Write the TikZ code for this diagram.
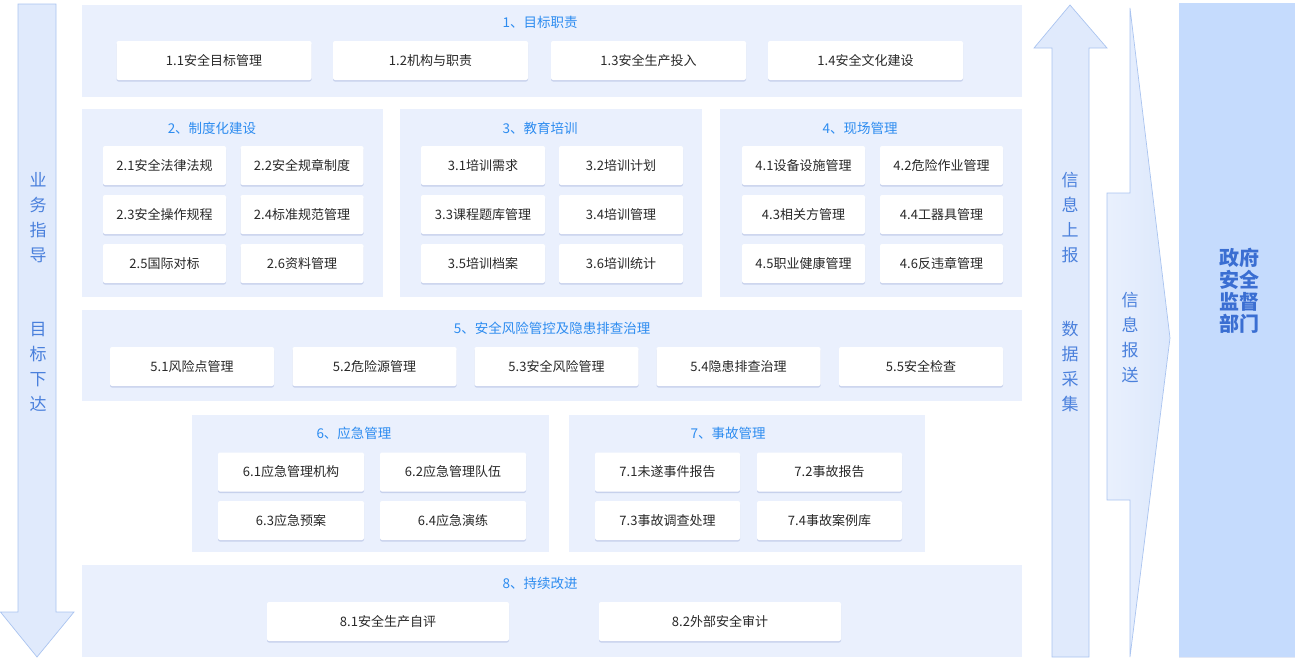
\documentclass[tikz,border=0pt]{standalone}
\usepackage{fontspec}
\setmainfont{Noto Sans CJK SC}
\usepackage{xcolor}
\usetikzlibrary{shadows}
\definecolor{secbg}{RGB}{234,240,253}
\definecolor{ttlblue}{RGB}{45,140,240}
\definecolor{cardtxt}{RGB}{40,40,40}
\definecolor{shadowc}{RGB}{120,140,200}
\definecolor{arrfill}{RGB}{224,234,252}
\definecolor{arrline}{RGB}{170,196,240}
\definecolor{vblue}{RGB}{74,128,220}
\definecolor{govbg}{RGB}{197,219,253}
\definecolor{govtxt}{RGB}{58,110,210}

\begin{document}
\begin{tikzpicture}[x=1pt,y=-1pt,
  sec/.style={fill=secbg,inner sep=0pt},
  card/.style={fill=white,rounded corners=2pt,inner sep=0pt,minimum height=39pt,
    font=\fontsize{13}{15}\selectfont,text=cardtxt,
    drop shadow={shadow xshift=0pt,shadow yshift=-1.5pt,opacity=0.3,fill=shadowc}},
  ttl/.style={font=\fontsize{13.5}{15}\selectfont,text=ttlblue},
  arr/.style={fill=arrfill,draw=arrline,line width=0.7pt,line join=miter},
  vtxt/.style={align=center,text=vblue,font=\fontsize{17}{25}\selectfont,inner sep=0pt}]
\useasboundingbox (0,0) rectangle (1299,664);

% arrows at the sides
\draw[arr] (18,4) -- (56,4) -- (56,612) -- (74,612) -- (37,657) -- (0.5,612) -- (18,612) -- cycle;
\draw[arr] (1052,657) -- (1089,657) -- (1089,48) -- (1107,48) -- (1070,5) -- (1034,48) -- (1052,48) -- cycle;
\draw[draw=arrline,line width=0.7pt,left color=arrfill!70!white,right color=arrfill!85!govbg]
  (1130,8) -- (1170,338) -- (1130,657) -- (1130,500) -- (1107,500) -- (1107,193) -- (1130,193) -- cycle;
\node[vtxt] (v1) at (38,217.5) {业\\务\\指\\导};
\node[vtxt] (v2) at (38,366.5) {目\\标\\下\\达};
\node[vtxt] (v3) at (1070,217.5) {信\\息\\上\\报};
\node[vtxt] (v4) at (1070,366.5) {数\\据\\采\\集};
\node[vtxt] (v5) at (1130,338) {信\\息\\报\\送};

% government box
\node[fill=govbg,minimum width=116pt,minimum height=654pt,inner sep=0pt,
  drop shadow={shadow xshift=0pt,shadow yshift=-1pt,opacity=0.2,fill=shadowc}] (gov) at (1236.5,330) {};
\node[align=center,text=govtxt,font=\bfseries\fontsize{20}{22}\selectfont] (govt) at (1239,291) {政府\\安全\\监督\\部门};

% 1
\node[sec,minimum width=940pt,minimum height=92pt] (s1) at (552,51) {};
\node[ttl] (t1) at (540,22) {1、目标职责};
\node[card,minimum width=195pt] (c11) at (214,60.5) {1.1安全目标管理};
\node[card,minimum width=195pt] (c12) at (430.5,60.5) {1.2机构与职责};
\node[card,minimum width=195pt] (c13) at (648.5,60.5) {1.3安全生产投入};
\node[card,minimum width=195pt] (c14) at (865.5,60.5) {1.4安全文化建设};

% 2
\node[sec,minimum width=301pt,minimum height=188pt] (s2) at (232.5,203) {};
\node[ttl] (t2) at (212,128) {2、制度化建设};
\node[card,minimum width=123pt] (c21) at (164.5,165.5) {2.1安全法律法规};
\node[card,minimum width=123pt] (c22) at (302,165.5) {2.2安全规章制度};
\node[card,minimum width=123pt] (c23) at (164.5,214.5) {2.3安全操作规程};
\node[card,minimum width=123pt] (c24) at (302,214.5) {2.4标准规范管理};
\node[card,minimum width=123pt] (c25) at (164.5,263.5) {2.5国际对标};
\node[card,minimum width=123pt] (c26) at (302,263.5) {2.6资料管理};

% 3
\node[sec,minimum width=302pt,minimum height=188pt] (s3) at (551,203) {};
\node[ttl] (t3) at (540,128) {3、教育培训};
\node[card,minimum width=124pt] (c31) at (483,165.5) {3.1培训需求};
\node[card,minimum width=124pt] (c32) at (621,165.5) {3.2培训计划};
\node[card,minimum width=124pt] (c33) at (483,214.5) {3.3课程题库管理};
\node[card,minimum width=124pt] (c34) at (621,214.5) {3.4培训管理};
\node[card,minimum width=124pt] (c35) at (483,263.5) {3.5培训档案};
\node[card,minimum width=124pt] (c36) at (621,263.5) {3.6培训统计};

% 4
\node[sec,minimum width=302pt,minimum height=188pt] (s4) at (871,203) {};
\node[ttl] (t4) at (860,128) {4、现场管理};
\node[card,minimum width=123pt] (c41) at (803.5,165.5) {4.1设备设施管理};
\node[card,minimum width=123pt] (c42) at (941.5,165.5) {4.2危险作业管理};
\node[card,minimum width=123pt] (c43) at (803.5,214.5) {4.3相关方管理};
\node[card,minimum width=123pt] (c44) at (941.5,214.5) {4.4工器具管理};
\node[card,minimum width=123pt] (c45) at (803.5,263.5) {4.5职业健康管理};
\node[card,minimum width=123pt] (c46) at (941.5,263.5) {4.6反违章管理};

% 5
\node[sec,minimum width=940pt,minimum height=91pt] (s5) at (552,355.5) {};
\node[ttl] (t5) at (552,328) {5、安全风险管控及隐患排查治理};
\node[card,minimum width=164pt] (c51) at (192,366.5) {5.1风险点管理};
\node[card,minimum width=164pt] (c52) at (374.5,366.5) {5.2危险源管理};
\node[card,minimum width=164pt] (c53) at (556.5,366.5) {5.3安全风险管理};
\node[card,minimum width=164pt] (c54) at (738.5,366.5) {5.4隐患排查治理};
\node[card,minimum width=164pt] (c55) at (921,366.5) {5.5安全检查};

% 6
\node[sec,minimum width=357pt,minimum height=137pt] (s6) at (370.5,483.5) {};
\node[ttl] (t6) at (354,433) {6、应急管理};
\node[card,minimum width=146pt] (c61) at (291,472) {6.1应急管理机构};
\node[card,minimum width=146pt] (c62) at (453,472) {6.2应急管理队伍};
\node[card,minimum width=146pt] (c63) at (291,520.5) {6.3应急预案};
\node[card,minimum width=146pt] (c64) at (453,520.5) {6.4应急演练};

% 7
\node[sec,minimum width=356pt,minimum height=137pt] (s7) at (747,483.5) {};
\node[ttl] (t7) at (728,433) {7、事故管理};
\node[card,minimum width=145pt] (c71) at (667.5,472) {7.1未遂事件报告};
\node[card,minimum width=145pt] (c72) at (829.5,472) {7.2事故报告};
\node[card,minimum width=145pt] (c73) at (667.5,520.5) {7.3事故调查处理};
\node[card,minimum width=145pt] (c74) at (829.5,520.5) {7.4事故案例库};

% 8
\node[sec,minimum width=940pt,minimum height=92pt] (s8) at (552,611) {};
\node[ttl] (t8) at (540,583) {8、持续改进};
\node[card,minimum width=242pt] (c81) at (388,621.5) {8.1安全生产自评};
\node[card,minimum width=242pt] (c82) at (720,621.5) {8.2外部安全审计};
\end{tikzpicture}
\end{document}
